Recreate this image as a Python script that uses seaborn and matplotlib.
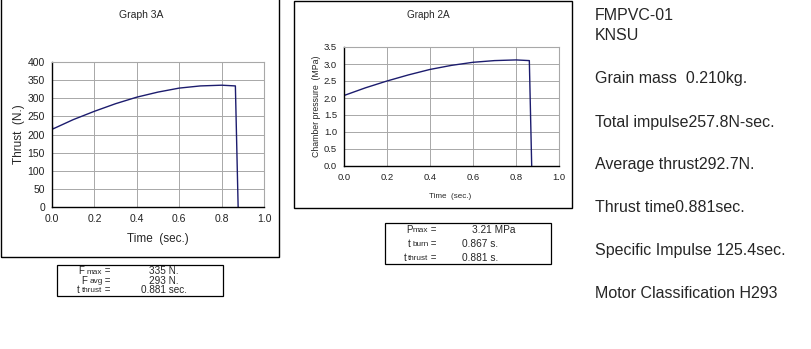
import matplotlib
matplotlib.use("Agg")
import matplotlib.pyplot as plt
import seaborn as sns
import pandas as pd
from matplotlib.patches import Rectangle

# ---------------- data ----------------
thrust_time = [0.0, 0.0, 0.003, 0.1, 0.2, 0.3, 0.4, 0.5, 0.6, 0.7, 0.8, 0.865, 0.878]
thrust_N = [0, 238, 215, 241, 264, 285, 303, 317, 328, 334, 336, 334, 0]

press_time = [0.0, 0.0, 0.003, 0.1, 0.2, 0.3, 0.4, 0.5, 0.6, 0.7, 0.8, 0.862, 0.873]
press_MPa = [0, 2.17, 2.08, 2.30, 2.50, 2.68, 2.84, 2.96, 3.05, 3.10, 3.12, 3.10, 0]

x_ticks = [0.0, 0.2, 0.4, 0.6, 0.8, 1.0]
thrust_ticks = [0, 50, 100, 150, 200, 250, 300, 350, 400]
press_ticks = [0.0, 0.5, 1.0, 1.5, 2.0, 2.5, 3.0, 3.5]

table3_labels = [("F", "max"), ("F", "avg"), ("t", "thrust")]
table3_values = ["335 N.", "293 N.", "0.881 sec."]
table2_labels = [("P", "max"), ("t", "burn"), ("t", "thrust")]
table2_values = ["3.21 MPa", "0.867 s.", "0.881 s."]

info_lines = ["FMPVC-01", "KNSU", "Grain mass  0.210kg.", "Total impulse257.8N-sec.",
              "Average thrust292.7N.", "Thrust time0.881sec.",
              "Specific Impulse 125.4sec.", "Motor Classification H293"]

# ---------------- layout helpers ----------------
W, H = 812, 349
sns.set_style("white")
plt.rcParams['font.family'] = ['Liberation Sans', 'DejaVu Sans']
fig = plt.figure(figsize=(W / 100, H / 100), dpi=100)
fig.patch.set_facecolor("white")
renderer = fig.canvas.get_renderer()


def fx(x):
    return x / W


def fy(y):
    return 1 - y / H


def rect(l, t, r, b):
    return [fx(l), fy(b), (r - l) / W, (b - t) / H]


def box(l, t, r, b, lw=1.0):
    fig.add_artist(Rectangle((fx(l), fy(b)), (r - l) / W, (b - t) / H,
                             transform=fig.transFigure, fill=False,
                             edgecolor="black", linewidth=lw))


def sub_label(x_right, y, big, small, fs_big=7.0, fs_small=5.9, gap_big=2.5):
    """Draw 'Big small =' right-aligned at x_right (pixel coords)."""
    eq = fig.text(fx(x_right), fy(y), " =", ha="right", va="center", fontsize=fs_big)
    left = eq.get_window_extent(renderer).x0
    sm = fig.text(left / W, fy(y + 1.0), small, ha="right", va="center", fontsize=fs_small)
    left2 = sm.get_window_extent(renderer).x0
    fig.text((left2 - gap_big) / W, fy(y), big, ha="right", va="center", fontsize=fs_big)


LINE = "#1c1c6e"
GRID = "#a8a8a8"


def style_axes(ax, fs):
    ax.set_facecolor("white")
    ax.grid(True, color=GRID, linewidth=0.7)
    for s in ["top", "right"]:
        ax.spines[s].set_color(GRID)
        ax.spines[s].set_linewidth(0.8)
    for s in ["left", "bottom"]:
        ax.spines[s].set_color("black")
        ax.spines[s].set_linewidth(1.0)
    ax.tick_params(axis="both", direction="out", length=3, width=0.8,
                   colors="black", labelsize=fs, pad=2)
    ax.tick_params(axis="both", labelcolor="#222222")


# ---------------- Graph 3A ----------------
box(1, -2, 279, 257)
ax1 = fig.add_axes(rect(52, 62, 264, 207))
df1 = pd.DataFrame({"t": thrust_time, "F": thrust_N})
sns.lineplot(data=df1, x="t", y="F", ax=ax1, sort=False, estimator=None,
             color=LINE, linewidth=1.0)
ax1.set_xlim(0, 1.0)
ax1.set_ylim(0, 400)
ax1.set_xticks(x_ticks)
ax1.set_xticklabels([f"{v:.1f}" for v in x_ticks])
ax1.set_yticks(thrust_ticks)
style_axes(ax1, 7.5)
ax1.set_xlabel("")
ax1.set_ylabel("")
fig.text(fx(141), fy(15), "Graph 3A", ha="center", va="center", fontsize=7.5)
fig.text(fx(158), fy(239), "Time  (sec.)", ha="center", va="center", fontsize=8.5)
fig.text(fx(19), fy(134), "Thrust  (N.)", ha="center", va="center", fontsize=8.5, rotation=90)

# ---------------- Graph 2A ----------------
box(294, 1, 572, 208)
ax2 = fig.add_axes(rect(344, 47, 559, 166))
df2 = pd.DataFrame({"t": press_time, "P": press_MPa})
sns.lineplot(data=df2, x="t", y="P", ax=ax2, sort=False, estimator=None,
             color=LINE, linewidth=1.0)
ax2.set_xlim(0, 1.0)
ax2.set_ylim(0, 3.5)
ax2.set_xticks(x_ticks)
ax2.set_xticklabels([f"{v:.1f}" for v in x_ticks])
ax2.set_yticks(press_ticks)
ax2.set_yticklabels([f"{v:.1f}" for v in press_ticks])
style_axes(ax2, 6.8)
ax2.set_xlabel("")
ax2.set_ylabel("")
fig.text(fx(428), fy(15), "Graph 2A", ha="center", va="center", fontsize=7.2)
fig.text(fx(450), fy(197), "Time  (sec.)", ha="center", va="center", fontsize=5.8)
fig.text(fx(317), fy(106), "Chamber pressure  (MPa)", ha="center", va="center",
         fontsize=6.3, rotation=90)

# ---------------- Table 3A ----------------
box(57, 265, 223, 296, lw=0.9)
rows3_y = [271, 280.5, 290]
for (big, small), y, val in zip(table3_labels, rows3_y, table3_values):
    sub_label(111, y, big, small, fs_big=7.0, fs_small=5.9, gap_big=2.5)
    fig.text(fx(164), fy(y), val, ha="center", va="center", fontsize=7.2)

# ---------------- Table 2A ----------------
box(385, 223, 551, 264, lw=0.9)
rows2_y = [230, 244, 258]
val_x2 = [472, 462, 462]
for (big, small), vx, y, val in zip(table2_labels, val_x2, rows2_y, table2_values):
    sub_label(437, y, big, small, fs_big=7.0, fs_small=5.9,
              gap_big=0.3 if big == "P" else 2.0)
    fig.text(fx(vx), fy(y), val, ha="left", va="center", fontsize=7.3)

# ---------------- Right-hand text ----------------
info_y = [15, 35, 79, 122, 165, 208, 251, 293]
for txt, y in zip(info_lines, info_y):
    fig.text(fx(595), fy(y), txt, ha="left", va="center", fontsize=11.5)

fig.savefig("out.png", dpi=100, facecolor="white")
